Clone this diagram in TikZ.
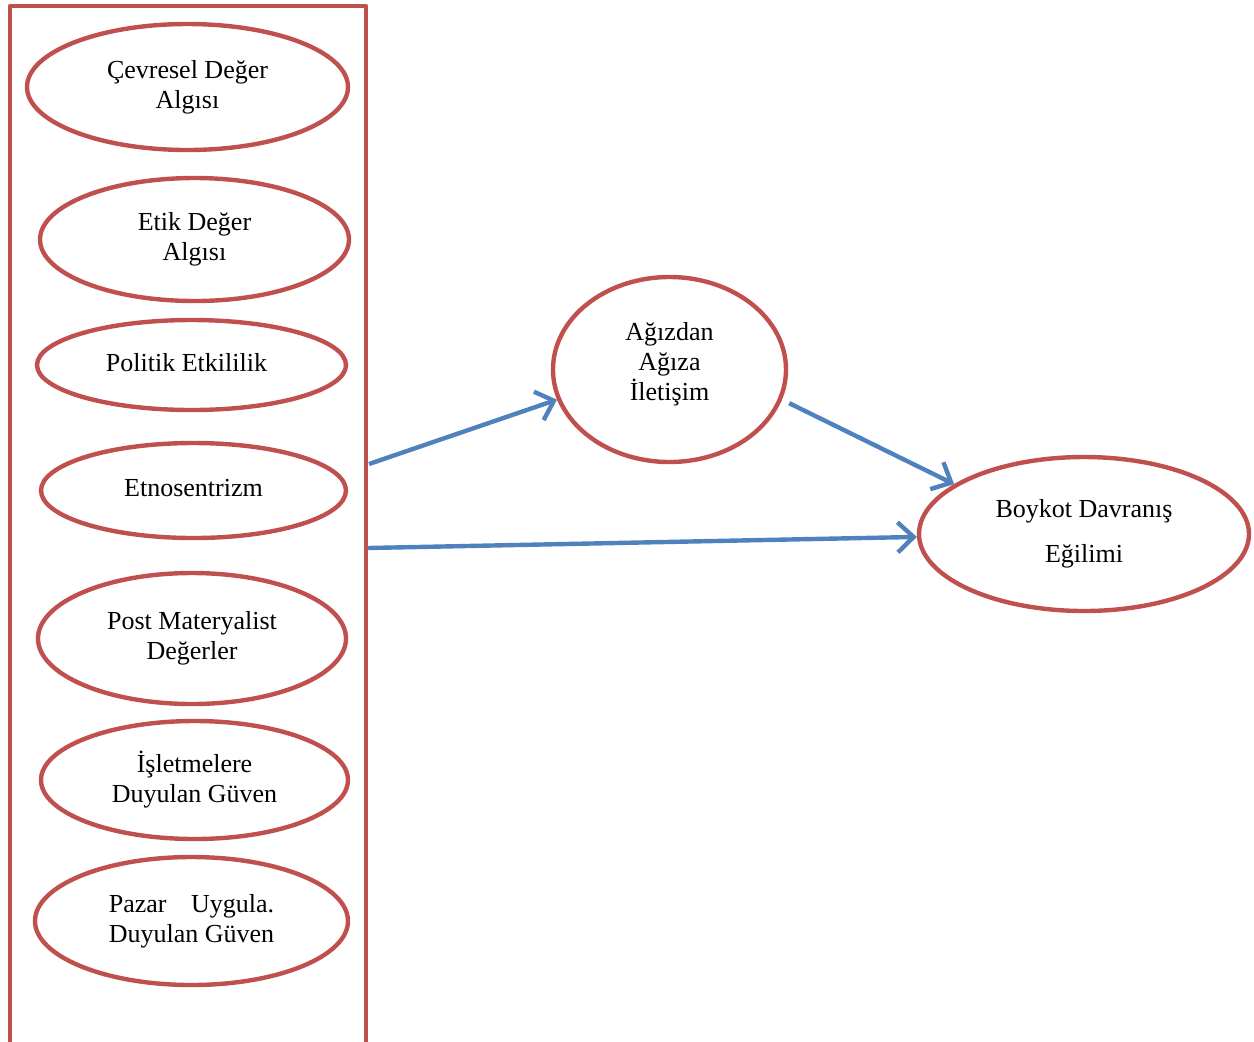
\documentclass[tikz,border=0pt]{standalone}
\usepackage{fontspec}
\setmainfont{Liberation Serif}
\usepackage{calc}
\usetikzlibrary{shapes.geometric,arrows.meta}

\definecolor{redline}{HTML}{C0504D}
\definecolor{blueline}{HTML}{4F81BD}

\tikzset{
  oval/.style={ellipse, draw=redline, line width=2.2pt, inner sep=0pt, align=center,
    font=\fontsize{13}{15}\selectfont},
  link/.style={draw=blueline, line width=2.2pt, -{Straight Barb[length=8pt,width=15pt]}}
}

\begin{document}
\begin{tikzpicture}[x=0.5pt,y=-0.5pt]

\useasboundingbox (0,0) rectangle (1254,1041);

% red frame, open at the bottom
\draw[redline, line width=2.2pt, line join=round] (10,1050)--(10,6)--(366,6)--(366,1050);

\node[oval, minimum width=160.5pt, minimum height=63pt] (cevre) at (187.5,87) {Çevresel Değer\\Algısı};
\node[oval, minimum width=154.5pt, minimum height=61.5pt] (etik) at (194.5,239.5) {Etik Değer\\Algısı};
\node[oval, minimum width=154.5pt, minimum height=45pt] (politik) at (191.5,365) {\raisebox{2.5pt}{Politik Etkililik}\hspace{5pt}};
\node[oval, minimum width=152.5pt, minimum height=47.5pt] (etno) at (193.5,490.5) {\raisebox{3pt}{Etnosentrizm}};
\node[oval, minimum width=154pt, minimum height=65.5pt] (post) at (192,638.5) {Post Materyalist\\Değerler};
\node[oval, minimum width=153.5pt, minimum height=59pt] (isletme) at (194.5,780) {İşletmelere\\Duyulan Güven};
\node[oval, minimum width=156.5pt, minimum height=64pt] (pazar) at (191.5,921)
  {\makebox[\widthof{Duyulan Güven}][s]{Pazar Uygula.}\\Duyulan Güven};

\node[oval, minimum width=116.5pt, minimum height=92.5pt] (agiz) at (669.5,369.5) {Ağızdan\\Ağıza\\İletişim\\[-7pt]};
\node[oval, minimum width=165pt, minimum height=77pt] (boykot) at (1084,534) {Boykot Davranış\\[7.5pt]Eğilimi};

\coordinate (frameA) at (369,464);
\coordinate (frameB) at (368,548);

\draw[link] (frameA)--(agiz.195);
\draw[link, shorten <=4pt] (agiz.-15)--(boykot.159);
\draw[link] (frameB)--(boykot.181);

\end{tikzpicture}
\end{document}
